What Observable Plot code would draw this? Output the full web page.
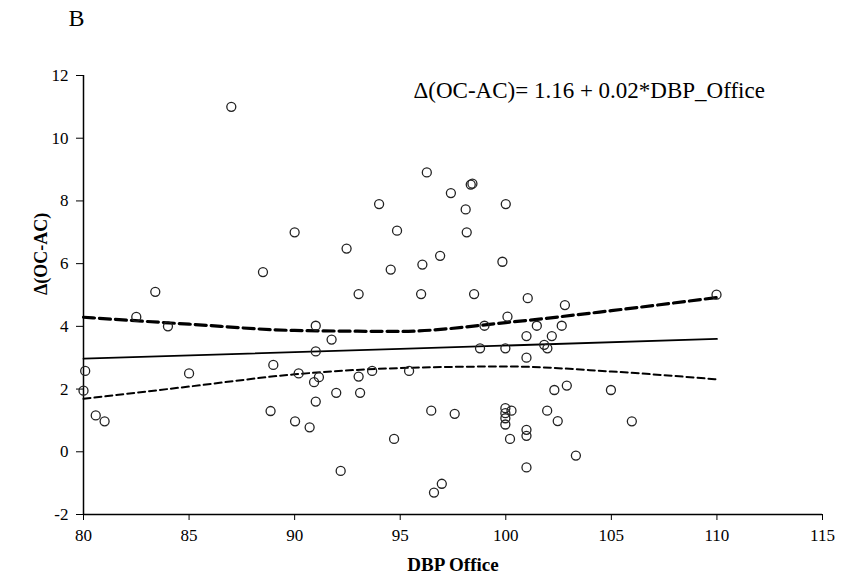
<!DOCTYPE html>
<html>
<head>
<meta charset="utf-8">
<script src="https://cdn.jsdelivr.net/npm/d3@7"></script>
<script src="https://cdn.jsdelivr.net/npm/@observablehq/plot@0.6"></script>
<style>
  html, body { margin: 0; padding: 0; background: #fff; }
  #chart { width: 848px; height: 578px; }
</style>
</head>
<body>
<div id="chart"></div>
<script>
// DBP Office (x) and Δ(OC-AC) (y) for each subject
const dbpOffice = [
  87.0, 90.0, 88.5, 83.4, 96.26, 98.34, 98.42, 97.4, 94.0, 98.1,
  100.0, 94.85, 98.15, 92.46, 94.55, 96.05, 96.89, 99.84, 93.03, 95.99,
  98.5, 101.04, 109.98, 82.5, 84.0, 80.08, 80.0, 80.58, 81.0, 85.0,
  88.99, 88.86, 90.02, 90.19, 90.71, 91.0, 91.0, 90.92, 91.0, 91.15,
  91.75, 91.97, 93.03, 93.1, 93.67, 92.18, 94.71, 95.42, 96.47, 97.58,
  96.6, 96.97, 98.78, 98.99, 99.98, 100.08, 99.98, 99.98, 99.98, 99.98,
  100.27, 100.2, 100.98, 100.98, 100.98, 100.98, 100.98, 101.47, 101.82, 101.97,
  102.18, 102.65, 102.8, 102.3, 102.89, 104.98, 101.96, 102.46, 105.97, 103.32
];
const deltaOCAC = [
  11.0, 7.0, 5.73, 5.1, 8.91, 8.52, 8.55, 8.25, 7.9, 7.73,
  7.9, 7.05, 7.0, 6.48, 5.81, 5.97, 6.25, 6.06, 5.03, 5.03,
  5.03, 4.9, 5.01, 4.3, 4.0, 2.58, 1.95, 1.16, 0.97, 2.5,
  2.77, 1.3, 0.97, 2.5, 0.78, 4.02, 3.2, 2.22, 1.6, 2.38,
  3.58, 1.88, 2.4, 1.88, 2.58, -0.61, 0.41, 2.58, 1.31, 1.21,
  -1.3, -1.02, 3.3, 4.02, 3.3, 4.31, 1.39, 1.23, 1.07, 0.87,
  1.31, 0.41, 3.69, 3.0, 0.70, 0.51, -0.5, 4.02, 3.41, 3.3,
  3.69, 4.02, 4.68, 1.97, 2.11, 1.97, 1.31, 0.98, 0.97, -0.12
];

// Fitted line (solid)
const fitX = [80, 95, 110];
const fitY = [2.97, 3.28, 3.6];

// Upper and lower confidence bands (dashed)
const bandX = [80, 85, 90, 95, 100, 105, 110];
const upperY = [4.29, 4.07, 3.87, 3.84, 4.12, 4.5, 4.92];
const lowerY = [1.69, 2.08, 2.47, 2.67, 2.72, 2.56, 2.31];

const xTicks = [80, 85, 90, 95, 100, 105, 110, 115];
const yTicks = [-2, 0, 2, 4, 6, 8, 10, 12];

const panelLabel = "B";
const equationText = "\u0394(OC-AC)= 1.16 + 0.02*DBP_Office";
const xLabel = "DBP Office";
const yLabel = "\u0394(OC-AC)";

const points = dbpOffice.map((x, i) => ({x, y: deltaOCAC[i]}));
const fit = fitX.map((x, i) => ({x, y: fitY[i]}));
const upper = bandX.map((x, i) => ({x, y: upperY[i]}));
const lower = bandX.map((x, i) => ({x, y: lowerY[i]}));

const serif = "Liberation Serif, Times New Roman, serif";

const chart = Plot.plot({
  width: 848,
  height: 578,
  marginLeft: 83,
  marginRight: 26,
  marginTop: 75,
  marginBottom: 64,
  style: {fontFamily: serif, fontSize: "17px", color: "#000", background: "#fff"},
  x: {domain: [80, 115]},
  y: {domain: [-2, 12]},
  marks: [
    Plot.axisX({ticks: xTicks, tickSize: 6, tickPadding: 8, label: null, fontSize: 17, fontFamily: serif, tickFormat: d => String(d)}),
    Plot.axisY({ticks: yTicks, tickSize: 7, tickPadding: 8, label: null, fontSize: 17, fontFamily: serif, tickFormat: d => String(d)}),
    Plot.ruleX([80], {stroke: "#000", strokeWidth: 1.5}),
    Plot.ruleY([-2], {stroke: "#000", strokeWidth: 1.5}),
    Plot.line(upper, {x: "x", y: "y", curve: "monotone-x", stroke: "#000", strokeWidth: 3.2, strokeDasharray: "11,5"}),
    Plot.line(lower, {x: "x", y: "y", curve: "monotone-x", stroke: "#000", strokeWidth: 2, strokeDasharray: "7,4"}),
    Plot.line(fit, {x: "x", y: "y", stroke: "#000", strokeWidth: 1.8}),
    Plot.dot(points, {x: "x", y: "y", r: 4.5, stroke: "#222", strokeWidth: 1.3, fill: "none"}),
    Plot.text([equationText], {frameAnchor: "top-left", lineAnchor: "middle", dx: 330, dy: 15, textAnchor: "start", fontSize: 23, fontFamily: serif, fill: "#000"}),
    Plot.text([panelLabel], {frameAnchor: "top-left", lineAnchor: "middle", dx: -15, dy: -57, textAnchor: "start", fontSize: 24, fontFamily: serif, fill: "#000"}),
    Plot.text([xLabel], {frameAnchor: "bottom", lineAnchor: "middle", dy: 50, fontSize: 19, fontWeight: "bold", fontFamily: serif, fill: "#000"}),
    Plot.text([yLabel], {frameAnchor: "left", dx: -42, rotate: -90, fontSize: 18, fontWeight: "bold", fontFamily: serif, fill: "#000"})
  ]
});
document.getElementById("chart").appendChild(chart);
</script>
</body>
</html>
